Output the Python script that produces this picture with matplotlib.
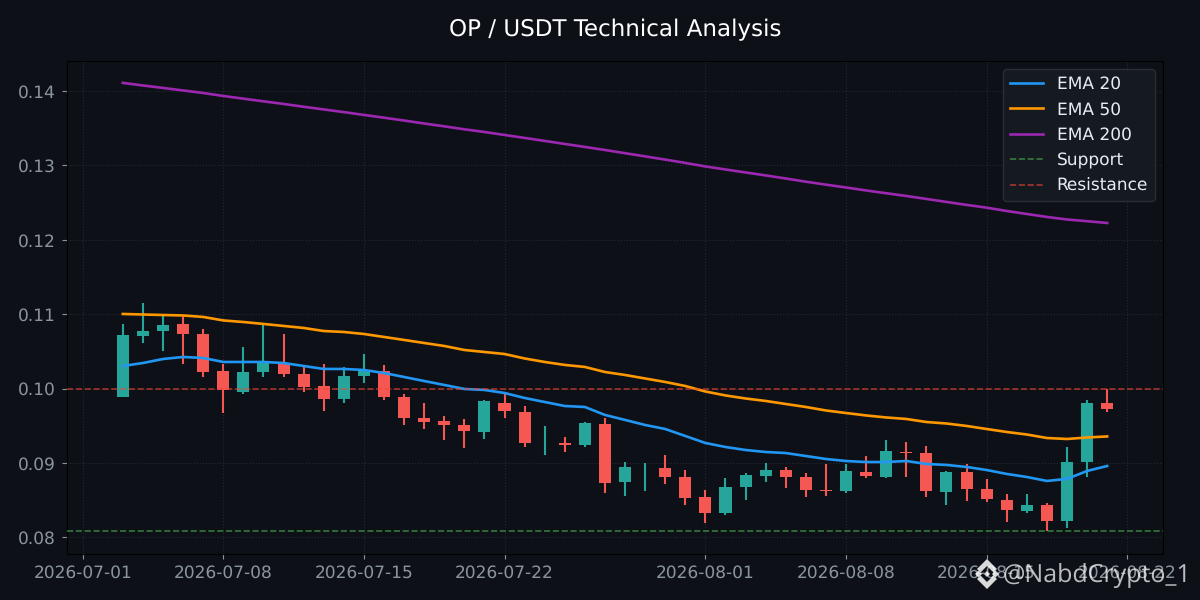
import matplotlib
matplotlib.use("Agg")
import matplotlib.pyplot as plt
import matplotlib.dates as mdates
import pandas as pd
from matplotlib.patches import Polygon

plt.rcParams["text.hinting"] = "no_hinting"
plt.rcParams["text.hinting_factor"] = 1

# =========================
# Data
# =========================
dates = pd.date_range("2026-07-03", periods=50, freq="D")

opens = [.0989, .1071, .1078, .1087, .1074, .1024, .0996, .1022, .1035, .1020,
         .1004, .0986, .1017, .1024, .0989, .0961, .0957, .0951, .0942, .0981,
         .0969, .0930, .0927, .0924, .0953, .0874, .0880, .0893, .0881, .0854,
         .0833, .0868, .0883, .0891, .0881, .0864, .0862, .0888, .0881, .0915,
         .0914, .0861, .0888, .0865, .0850, .0836, .0844, .0822, .0901, .0981]
highs = [.1087, .1115, .1098, .1098, .1080, .1033, .1056, .1086, .1074, .1029,
         .1033, .1029, .1047, .1032, .0993, .0981, .0963, .0959, .0985, .0993,
         .0977, .0950, .0935, .0955, .0961, .0901, .0900, .0911, .0891, .0864,
         .0880, .0887, .0900, .0895, .0887, .0899, .0899, .0909, .0931, .0928,
         .0923, .0890, .0899, .0879, .0858, .0858, .0846, .0922, .0985, .1000]
lows = [.0989, .1061, .1051, .1033, .1016, .0967, .0993, .1016, .1016, .0996,
        .0970, .0981, .1008, .0985, .0951, .0946, .0931, .0920, .0932, .0961,
        .0922, .0911, .0915, .0922, .0860, .0856, .0862, .0872, .0844, .0819,
        .0830, .0850, .0874, .0866, .0854, .0856, .0860, .0880, .0880, .0881,
        .0854, .0844, .0849, .0848, .0821, .0833, .0809, .0813, .0881, .0969]
closes = [.1072, .1078, .1086, .1074, .1022, .0998, .1022, .1036, .1020, .1002,
          .0986, .1017, .1025, .0989, .0961, .0955, .0951, .0943, .0983, .0970,
          .0927, .0930, .0924, .0954, .0873, .0895, .0880, .0881, .0853, .0833,
          .0868, .0884, .0891, .0881, .0864, .0862, .0890, .0883, .0916, .0914,
          .0862, .0888, .0865, .0852, .0837, .0844, .0822, .0901, .0981, .0973]

ema20 = [.10305, .10345, .10399, .10426, .10413, .10359, .10359, .10359, .10345, .10305,
         .10265, .10265, .10251, .10211, .10157, .10103, .10050, .09996, .09983, .09942,
         .09875, .09821, .09767, .09754, .09647, .09580, .09512, .09458, .09364, .09270,
         .09216, .09176, .09149, .09135, .09095, .09055, .09028, .09014, .09014, .09028,
         .08988, .08975, .08948, .08907, .08854, .08813, .08760, .08787, .08894, .08961]
ema50 = [.11004, .10997, .10990, .10984, .10964, .10917, .10896, .10870, .10843, .10816,
         .10775, .10762, .10735, .10695, .10655, .10614, .10574, .10520, .10493, .10466,
         .10406, .10359, .10319, .10292, .10224, .10184, .10137, .10090, .10036, .09962,
         .09909, .09868, .09835, .09794, .09754, .09707, .09673, .09640, .09613, .09593,
         .09552, .09532, .09499, .09458, .09418, .09384, .09337, .09324, .09344, .09358]
ema200 = [.14110, .14075, .14042, .14008, .13974, .13934, .13898, .13862, .13827, .13789,
          .13753, .13717, .13679, .13642, .13604, .13564, .13526, .13486, .13450, .13410,
          .13370, .13330, .13289, .13249, .13208, .13165, .13122, .13079, .13034, .12987,
          .12946, .12906, .12866, .12825, .12782, .12742, .12704, .12664, .12627, .12590,
          .12550, .12510, .12470, .12433, .12388, .12348, .12308, .12274, .12251, .12227]

support = 0.0809
resistance = 0.0999

# =========================
# Colours
# =========================
BG = "#0d1117"
AX_BG = "#0d1117"
UP = "#26a69a"
DOWN = "#f55753"
TICK = "#8b949e"

# =========================
# Figure
# =========================
fig, ax = plt.subplots(figsize=(12, 6), dpi=100, facecolor=BG)
fig.subplots_adjust(left=67 / 1200, right=1163 / 1200, top=1 - 61 / 600, bottom=1 - 554 / 600)
ax.set_facecolor(AX_BG)

# candles
for d, o, h, l, c in zip(dates, opens, highs, lows, closes):
    color = UP if c >= o else DOWN
    ax.vlines(d, l, h, color=color, linewidth=1.5, zorder=2)
    ax.bar(d, abs(c - o), bottom=min(o, c), width=0.6, color=color, zorder=3)

# EMA lines and levels
ax.plot(dates, ema20, color="#2196f3", linewidth=1.9, label="EMA 20", zorder=4)
ax.plot(dates, ema50, color="#ff9800", linewidth=1.9, label="EMA 50", zorder=4)
ax.plot(dates, ema200, color="#9c27b0", linewidth=1.9, label="EMA 200", zorder=4)
ax.axhline(support, color="#4caf50", linestyle="--", linewidth=1.2, alpha=0.65, label="Support", zorder=4)
ax.axhline(resistance, color="#f44336", linestyle="--", linewidth=1.2, alpha=0.65, label="Resistance", zorder=4)

ax.set_ylim(0.07778, 0.14404)
ax.set_title("OP / USDT Technical Analysis", color="white", fontsize=16.4, pad=17.5)
ax.xaxis.set_major_locator(mdates.AutoDateLocator())
ax.xaxis.set_major_formatter(mdates.DateFormatter("%Y-%m-%d"))
ax.tick_params(colors=TICK, labelsize=12.3, pad=4.5)
ax.grid(True, color="#2a2f38", linestyle=":", linewidth=0.8, alpha=0.8)
ax.set_axisbelow(True)
for spine in ax.spines.values():
    spine.set_color("#000000")

leg = ax.legend(loc="upper right", fontsize=12, labelspacing=0.535, facecolor="#161b22",
                edgecolor="#2a2f38", framealpha=0.95)
for text in leg.get_texts():
    text.set_color("#e6edf3")

# =========================
# Watermark: logo and handle
# =========================
def logo_patch(points):
    # logo outline in image pixels, centred at (987, 574)
    xy = [((987 + px) / 1200, 1 - (574 + py) / 600) for px, py in points]
    fig.patches.append(Polygon(xy, closed=True, transform=fig.transFigure,
                               facecolor="white", edgecolor="none", alpha=0.85, zorder=10))

logo_patch([(-3, 0), (0, -3), (3, 0), (0, 3)])
logo_patch([(-12, 0), (-8.5, -3.5), (-5, 0), (-8.5, 3.5)])
logo_patch([(12, 0), (8.5, -3.5), (5, 0), (8.5, 3.5)])
logo_patch([(0, -15), (10, -5), (6.5, -1.5), (0, -8), (-6.5, -1.5), (-10, -5)])
logo_patch([(0, 15), (10, 5), (6.5, 1.5), (0, 8), (-6.5, 1.5), (-10, 5)])

fig.text(1003 / 1200, 1 - 575 / 600, "@NabdCrypto_1", color="white", alpha=0.72,
         fontsize=18.2, family="Open Sans", va="center", ha="left", zorder=10)

fig.savefig("out.png", dpi=100, facecolor=BG)
